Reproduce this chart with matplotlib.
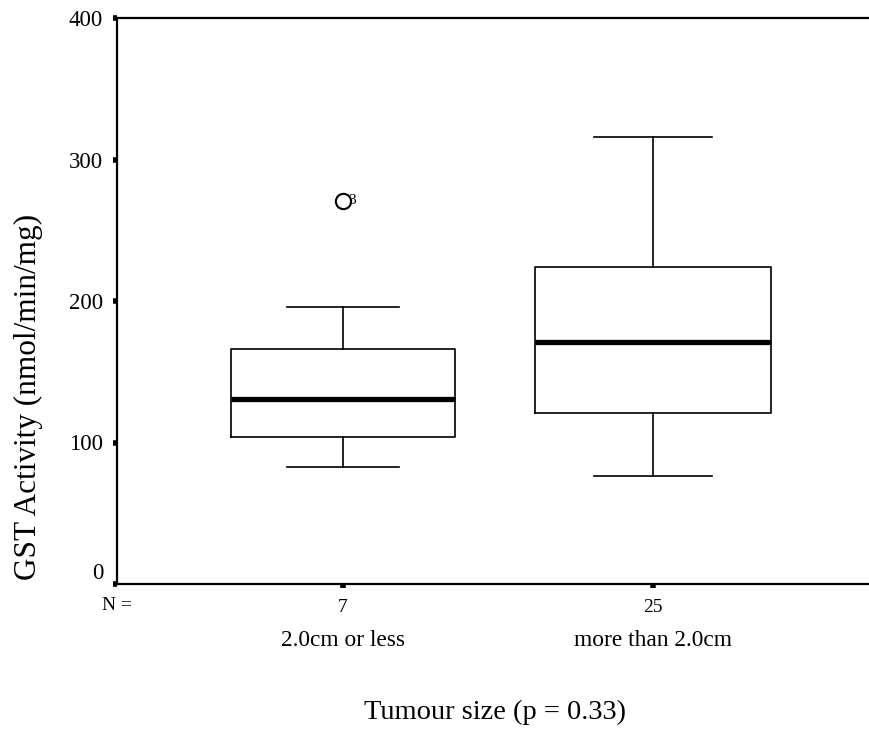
import matplotlib.pyplot as plt
import matplotlib.transforms as mtransforms

plt.rcParams['font.family'] = ['Liberation Serif', 'DejaVu Serif']

# data
groups = ['2.0cm or less', 'more than 2.0cm']
counts = [7, 25]
whislo = [83, 76]
q1 = [104, 121]
med = [131, 171]
q3 = [166, 224]
whishi = [196, 316]
outliers = [[271], []]
outlier_ids = [['3'], []]
yticks = [0, 100, 200, 300, 400]

stats = []
for i in range(len(groups)):
    stats.append(dict(label=groups[i], whislo=whislo[i], q1=q1[i], med=med[i],
                      q3=q3[i], whishi=whishi[i], fliers=outliers[i]))

W, H = 870, 733
fig = plt.figure(figsize=(W / 100, H / 100), dpi=100)
ax = fig.add_axes([117 / W, 149 / H, 753 / W, 566 / H])

ax.bxp(stats, positions=[1, 2], widths=[0.72, 0.76], showfliers=True,
       boxprops=dict(color='black', linewidth=1.2),
       whiskerprops=dict(color='black', linewidth=1.2),
       capprops=dict(color='black', linewidth=1.2),
       medianprops=dict(color='black', linewidth=3.8, solid_capstyle='butt'),
       flierprops=dict(marker='o', markerfacecolor='white', markeredgecolor='black',
                       markersize=11, markeredgewidth=1.5))

# outlier case numbers
for i in range(len(groups)):
    for v, lab in zip(outliers[i], outlier_ids[i]):
        ax.annotate(lab, (i + 1, v), xytext=(4, 0), textcoords='offset points',
                    ha='left', va='center', fontsize=11)

ax.set_xlim(0.271, 2.7)
ax.set_ylim(0, 400)

ax.spines['right'].set_visible(False)
for s in ['left', 'bottom', 'top']:
    ax.spines[s].set_linewidth(1.6)

ax.set_yticks(yticks)
ax.set_yticklabels([str(t) for t in yticks], fontsize=16.5)
ax.tick_params(axis='y', direction='out', length=3, width=4, pad=7)
ax.get_yticklabels()[0].set_verticalalignment('bottom')

ax.set_xticks([1, 2])
ax.set_xticklabels([str(c) for c in counts], fontsize=14)
ax.tick_params(axis='x', direction='out', length=3, width=4, pad=8)

trans = mtransforms.blended_transform_factory(ax.transData, fig.transFigure)
ax.text(0.271, 1 - 605 / H, 'N =', transform=trans, ha='center', va='center', fontsize=14)
for i, g in enumerate(groups):
    ax.text(i + 1, 1 - 640 / H, g, transform=trans, ha='center', va='center', fontsize=16.8)

fig.text(495 / W, 1 - 712 / H, 'Tumour size (p = 0.33)', ha='center', va='center', fontsize=20.5)
fig.text(28 / W, 1 - 397 / H, 'GST Activity (nmol/min/mg)', ha='center', va='center',
         rotation=90, fontsize=22.5)

fig.savefig('out.png', dpi=100)
